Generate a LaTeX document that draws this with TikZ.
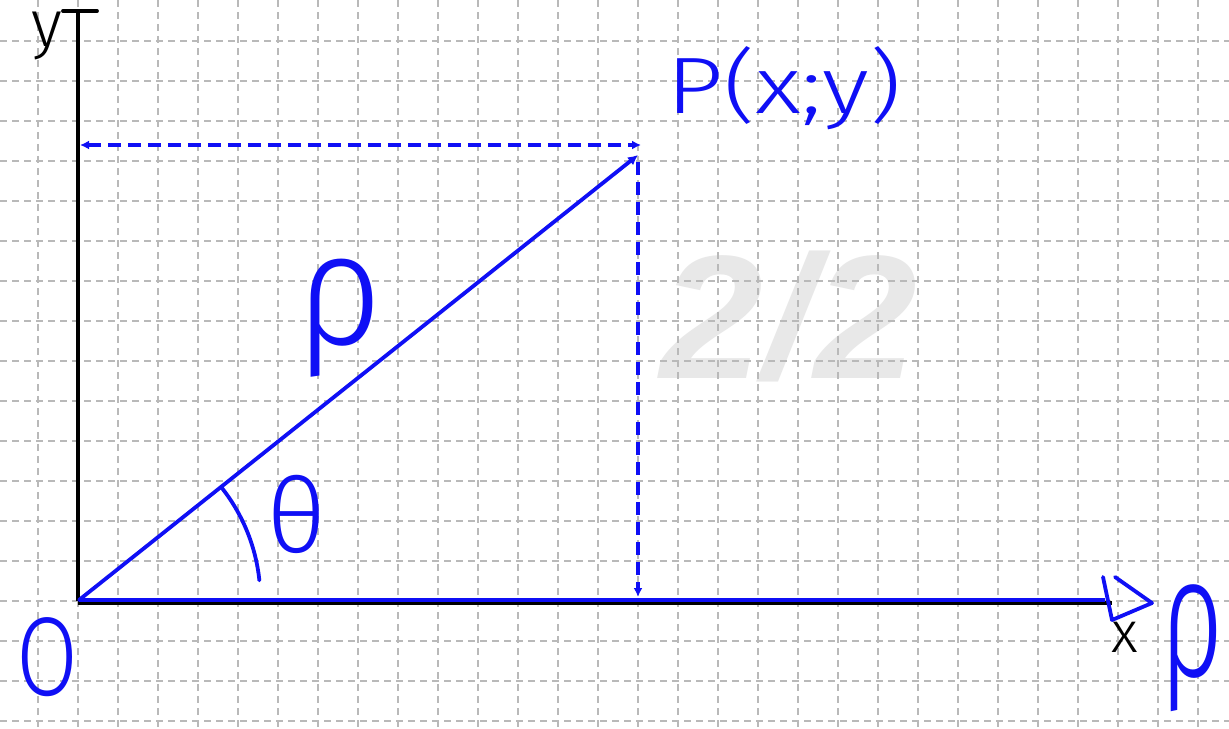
\documentclass[tikz,border=0pt]{standalone}
\usepackage{fontspec}
\setmainfont{DejaVu Sans}
\newfontfamily\handfont{Fira Sans Light}
\newfontfamily\wmfont{Liberation Sans}
\usetikzlibrary{arrows.meta}
\definecolor{penblue}{RGB}{15,15,245}
\definecolor{gridgray}{RGB}{185,185,185}
\definecolor{wmgray}{RGB}{232,232,232}
\begin{document}
\begin{tikzpicture}[x=0.5pt,y=-0.5pt,
  gridline/.style={draw=gridgray,line width=0.75pt,dash pattern=on 3.5pt off 2.5pt},
  axisline/.style={draw=black,line width=1.9pt},
  penline/.style={draw=penblue,line width=1.9pt,line cap=round,line join=round},
  pendash/.style={draw=penblue,line width=1.9pt,dash pattern=on 6.5pt off 3.5pt},
  bluelabel/.style={text=penblue,inner sep=0pt},
  blacklabel/.style={text=black,inner sep=0pt},
  wm/.style={text=wmgray,inner sep=0pt,font=\wmfont\bfseries\itshape\fontsize{88}{92}\selectfont}]
\fill[white] (0,0) rectangle (1229,728);
\useasboundingbox (0,0) rectangle (1229,728);
% watermark
\node[wm,xscale=1.05] (wmark) at (789,316) {2/2};
% grid
\foreach \gx in {38,78,...,1198} \draw[gridline] (\gx,0) -- (\gx,728);
\foreach \gy in {41,81,...,721} \draw[gridline] (0,\gy) -- (1229,\gy);
% coordinates
\coordinate (O) at (78,601);
\coordinate (Ytop) at (78,11);
\coordinate (Tl) at (63,11);
\coordinate (Tr) at (97,11);
\coordinate (Xend) at (1112,603);
\coordinate (Xstart) at (78,603);
\coordinate (Bstart) at (79,600);
\coordinate (Bend) at (1105,600);
\coordinate (P) at (638,155);
\coordinate (Hr) at (641,145);
\coordinate (Hl) at (80,145);
\coordinate (Vt) at (638,162);
\coordinate (Vb) at (638,597);
% axes
\draw[axisline] (O) -- (Ytop);
\draw[axisline,line cap=round] (Tl) -- (Tr);
\draw[axisline] (Xstart) -- (Xend);
\draw[penline,line width=2pt,line cap=butt] (Bstart) -- (Bend);
% hand-drawn arrow head on x axis
\coordinate (A1) at (1103,577);
\coordinate (A2) at (1112,620);
\coordinate (A3) at (1152,603);
\coordinate (A4) at (1115,577);
\draw[penline] (A1) -- (A2) -- (A3) -- (A4);
% radius
\draw[penline,-{Latex[length=5pt,width=5pt]}] (Bstart) -- (P);
% dashed projections
\draw[pendash,{Latex[length=4.5pt,width=4.5pt]}-{Latex[length=4.5pt,width=4.5pt]}] (Hl) -- (Hr);
\draw[pendash,-{Latex[length=4.5pt,width=4.5pt]}] (Vt) -- (Vb);
% angle arc
\draw[penline] (O) ++(-38:183) arc[start angle=-38, end angle=-6, radius=180];
% labels
\node[blacklabel,font=\handfont\fontsize{33}{36}\selectfont] (ylab) at (47,36) {y};
\node[blacklabel,font=\handfont\fontsize{29}{32}\selectfont] (xlab) at (1125,637) {x};
\node[bluelabel,font=\handfont\fontsize{40}{44}\selectfont,xscale=1.25] (Plab) at (784,88) {P(x;y)};
\node[bluelabel,font=\handfont\fontsize{80}{84}\selectfont,xscale=0.95] (rho) at (340,318) {ρ};
\node[bluelabel,font=\handfont\fontsize{52}{56}\selectfont,xscale=1.0] (theta) at (297,514) {θ};
\node[bluelabel,font=\handfont\fontsize{56}{60}\selectfont,xscale=0.8] (Olab) at (47,657) {O};
\node[bluelabel,font=\handfont\fontsize{86}{90}\selectfont,xscale=0.65] (rhobig) at (1192,648) {ρ};
\end{tikzpicture}
\end{document}
